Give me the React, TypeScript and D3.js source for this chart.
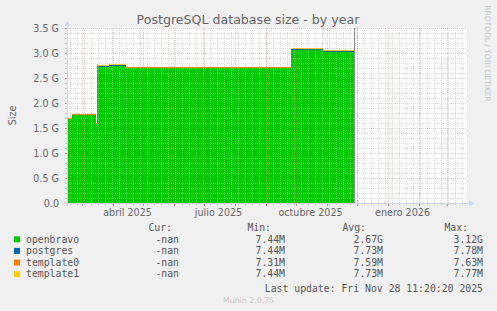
import React from 'react';
import * as d3 from 'd3';

// ---- data ----
const startTime = new Date(Date.UTC(2025, 1, 14, 11, 20, 20));
const endTime = new Date(startTime.getTime() + 400 * 86400e3);

const sampleDates = [
  '2025-02-14T11:20', '2025-02-19', '2025-03-15', '2025-03-16', '2025-03-28',
  '2025-04-07', '2025-04-14', '2025-05-01', '2025-05-18', '2025-09-26',
  '2025-10-28', '2025-11-17', '2025-11-28T11:20',
];
// G
const openbravo = [1.68, 1.76, 1.58, 2.73, 2.75, 2.75, 2.70, 2.70, 2.70, 3.07, 3.03, 3.03, 3.03];
// M
const postgres = [7.44, 7.73, 7.73, 7.73, 7.73, 7.78, 7.73, 7.78, 7.73, 7.73, 7.78, 7.73, 7.73];
const template0 = [7.31, 7.59, 7.59, 7.59, 7.63, 7.59, 7.59, 7.59, 7.59, 7.63, 7.59, 7.63, 7.63];
const template1 = [7.44, 7.73, 7.73, 7.73, 7.77, 7.73, 7.73, 7.73, 7.73, 7.77, 7.73, 7.73, 7.73];

const seriesNames = ['openbravo', 'postgres', 'template0', 'template1'];
const seriesColors = ['#00CC00', '#0066B3', '#FF8000', '#FFCC00'];
const curVals = ['-nan', '-nan', '-nan', '-nan'];
const minVals = ['7.44M', '7.44M', '7.31M', '7.44M'];
const avgVals = ['2.67G', '7.73M', '7.59M', '7.73M'];
const maxVals = ['3.12G', '7.78M', '7.63M', '7.77M'];

const yTicks = [0, 0.5, 1.0, 1.5, 2.0, 2.5, 3.0, 3.5];
const yTickLabels = ['0.0', '0.5 G', '1.0 G', '1.5 G', '2.0 G', '2.5 G', '3.0 G', '3.5 G'];
const xLabelMonths = ['2025-04-01', '2025-07-01', '2025-10-01', '2026-01-01'];
const xLabelTexts = ['abril 2025', 'julio 2025', 'octubre 2025', 'enero 2026'];
const lastUpdateText = 'Last update: Fri Nov 28 11:20:20 2025';

// ---- layout ----
const W = 497, H = 311;
const L = 67, R = 467, T = 28, B = 203;
const FONT = 'DejaVu Sans, sans-serif';
const MONO = 'DejaVu Sans Mono, monospace';
const AXIS = '#CFD6F8';
const MINOR = 'rgba(186,186,186,0.45)';
const MAJOR = 'rgba(224,80,80,0.28)';

export default function App() {
  const parse = (s: string) => new Date(s.length > 10 ? s + ':00Z' : s + 'T00:00:00Z');
  const x = d3.scaleUtc().domain([startTime, endTime]).range([L, R]);
  const y = d3.scaleLinear().domain([0, 3.5]).range([B, T]);

  const rows = sampleDates.map((d, i) => ({
    date: parse(d),
    openbravo: openbravo[i],
    postgres: postgres[i] / 1000,
    template0: template0[i] / 1000,
    template1: template1[i] / 1000,
  }));
  const stacked = d3.stack<any>().keys(seriesNames)(rows);
  const area = d3.area<any>()
    .curve(d3.curveStepAfter)
    .x((d) => x(d.data.date))
    .y0((d) => y(d[0]))
    .y1((d) => y(d[1]));

  const minorY = d3.range(0, 35.01, 1).map((v) => v / 10).filter((v) => Math.round(v * 10) % 5 !== 0);
  const weeks = d3.utcMonday.range(startTime, endTime);
  const months = d3.utcMonth.range(startTime, endTime);
  const lastDate = rows[rows.length - 1].date;
  const px = (v: number) => Math.round(v) + 0.5;

  const legendY0 = 231;
  const rowH = 11.6;

  return (
    <svg width={W} height={H} style={{ position: 'absolute', left: 0, top: 0, background: '#F0F0F0' }}>
      <rect x={0} y={0} width={W} height={H} fill="#F0F0F0" />
      <rect x={L} y={T} width={R - L} height={B - T} fill="#FFFFFF" />
      {/* areas */}
      <g shapeRendering="crispEdges">
        {stacked.map((s, i) => (
          <path key={s.key} d={area(s) || ''} fill={seriesColors[i]} />
        ))}
      </g>
      {/* grid */}
      <g shapeRendering="crispEdges" strokeWidth={1} strokeDasharray="1,1">
        {minorY.map((v) => (
          <line key={'my' + v} x1={L} x2={R} y1={px(y(v))} y2={px(y(v))} stroke={MINOR} />
        ))}
        {weeks.map((d) => (
          <line key={'wx' + +d} x1={px(x(d))} x2={px(x(d))} y1={T} y2={B} stroke={MINOR} />
        ))}
        {months.map((d) => (
          <line key={'mx' + +d} x1={px(x(d))} x2={px(x(d))} y1={T} y2={B} stroke={MAJOR} />
        ))}
        {yTicks.map((v) => (
          <line key={'My' + v} x1={L} x2={R} y1={px(y(v))} y2={px(y(v))} stroke={MAJOR} />
        ))}
      </g>
      {/* tick marks */}
      <g shapeRendering="crispEdges" strokeWidth={1}>
        {minorY.map((v) => (
          <line key={'tmy' + v} x1={L - 2} x2={L} y1={px(y(v))} y2={px(y(v))} stroke="#C8C8C8" />
        ))}
        {yTicks.map((v) => (
          <line key={'tMy' + v} x1={L - 2} x2={L} y1={px(y(v))} y2={px(y(v))} stroke="#E88080" />
        ))}
        {weeks.map((d) => (
          <line key={'twx' + +d} x1={px(x(d))} x2={px(x(d))} y1={B} y2={B + 2} stroke="#C8C8C8" />
        ))}
        {months.map((d) => (
          <line key={'tmx' + +d} x1={px(x(d))} x2={px(x(d))} y1={B} y2={B + 3} stroke="#E88080" />
        ))}
      </g>
      {/* now line */}
      <line x1={px(x(lastDate))} x2={px(x(lastDate))} y1={T} y2={B} stroke="#909090" strokeWidth={1} shapeRendering="crispEdges" />
      {/* axes */}
      <g shapeRendering="crispEdges">
        <line x1={L - 4} x2={R + 3} y1={B + 0.5} y2={B + 0.5} stroke={AXIS} />
        <line x1={L + 0.5} x2={L + 0.5} y1={B + 3} y2={T - 4} stroke={AXIS} />
      </g>
      <path d={`M${R + 2},${B - 2.5}L${R + 7},${B + 0.5}L${R + 2},${B + 3.5}Z`} fill={AXIS} />
      <path d={`M${L - 2.5},${T - 2}L${L + 0.5},${T - 7}L${L + 3.5},${T - 2}Z`} fill={AXIS} />
      {/* y labels */}
      <g fontFamily={FONT} fontSize={9.6} fill="#666" textAnchor="end">
        {yTicks.map((v, i) => (
          <text key={'yl' + v} x={59} y={y(v) + 3.5}>{yTickLabels[i]}</text>
        ))}
      </g>
      {/* x labels */}
      <g fontFamily={FONT} fontSize={9.6} fill="#666" textAnchor="middle">
        {xLabelMonths.map((m, i) => {
          const d = parse(m);
          const mid = new Date(d.getTime() + 15 * 86400e3);
          return <text key={m} x={x(mid)} y={216}>{xLabelTexts[i]}</text>;
        })}
      </g>
      {/* title */}
      <text x={248} y={24} fontFamily={FONT} fontSize={12.6} fill="#666" textAnchor="middle">PostgreSQL database size - by year</text>
      <text transform={`translate(15.5,${(T + B) / 2}) rotate(-90)`} fontFamily={FONT} fontSize={9.6} fill="#666" textAnchor="middle">Size</text>
      <text transform={`translate(485,53.5) rotate(90)`} fontFamily={FONT} fontSize={7.5} fill="#C8C8C8" textAnchor="middle">RRDTOOL / TOBI OETIKER</text>
      <text x={248.5} y={302.5} fontFamily={FONT} fontSize={7.8} fill="#C8C8C8" textAnchor="middle">Munin 2.0.75</text>
      {/* legend */}
      <g fontFamily={MONO} fontSize={9.8} fill="#555">
        <text x={172} y={legendY0} textAnchor="end">Cur:</text>
        <text x={271} y={legendY0} textAnchor="end">Min:</text>
        <text x={366} y={legendY0} textAnchor="end">Avg:</text>
        <text x={468} y={legendY0} textAnchor="end">Max:</text>
        {seriesNames.map((n, i) => {
          const yy = legendY0 + rowH * (i + 1);
          return (
            <g key={n}>
              <rect x={14} y={yy - 6.3} width={6} height={6} fill={seriesColors[i]} />
              <text x={26} y={yy}>{n}</text>
              <text x={179} y={yy} textAnchor="end">{curVals[i]}</text>
              <text x={285} y={yy} textAnchor="end">{minVals[i]}</text>
              <text x={383} y={yy} textAnchor="end">{avgVals[i]}</text>
              <text x={483} y={yy} textAnchor="end">{maxVals[i]}</text>
            </g>
          );
        })}
        <text x={483} y={292} textAnchor="end">{lastUpdateText}</text>
      </g>
    </svg>
  );
}
